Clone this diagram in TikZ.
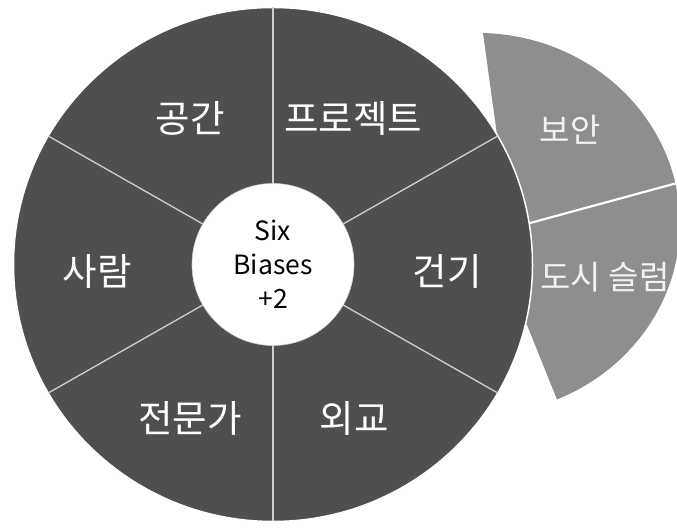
\documentclass[tikz,border=0pt]{standalone}
\usepackage{fontspec}
\usetikzlibrary{calc}
\setmainfont{Noto Sans CJK KR}
\newfontfamily\kr{Noto Sans CJK KR}
\definecolor{darkseg}{HTML}{4F4F4F}
\definecolor{lightseg}{HTML}{8E8E8E}
\definecolor{spoke}{HTML}{CFCFCF}
\tikzset{
  biglabel/.style={text=white, font=\kr\fontsize{37.5}{44}\selectfont, inner sep=0pt},
  smalllabel/.style={text=white!95!black, font=\kr\fontsize{33}{40}\selectfont, inner sep=0pt},
  spokeline/.style={draw=spoke, line width=1.3pt},
}
\begin{document}
\begin{tikzpicture}[x=1pt,y=1pt]
\useasboundingbox (0,0) rectangle (677,529);
\clip (0,0) rectangle (677,529);
\coordinate (C) at (273,264.5);
% outer light sectors (behind main circle)
\coordinate (V) at (521,219);
\coordinate (A) at (483,496);
\coordinate (E) at (477,305);
\fill[lightseg] (V) -- (A) arc[start angle=88.3, end angle=-66.8, x radius=203, y radius=191] -- cycle;
\coordinate (d1) at (500,297.8);
\coordinate (d2) at (690,349.5);
\draw[white, line width=2.2pt] (d1) -- (d2);
% main circle
\fill[darkseg, draw=white, line width=1.5pt] (C) ellipse[x radius=259.5, y radius=257];
\foreach \a in {90,30,-30,-90,150,210}{
  \draw[spokeline] ($(C)+(\a:81)$) -- ($(C)+(\a:259.5 and 257)$);
}
\fill[white, draw=spoke, line width=0.6pt] (C) circle[radius=81];
% labels
\node[biglabel] (gonggan) at (190,411) {공간};
\node[biglabel] (project) at (353,411) {프로젝트};
\node[biglabel] (saram) at (97,258) {사람};
\node[biglabel] (geongi) at (447,258) {건기};
\node[biglabel] (expert) at (190,111) {전문가};
\node[biglabel] (diplo) at (354,111) {외교};
\node[smalllabel] (boan) at (570,399) {보안};
\node[smalllabel] (slum) at (605,252) {도시 슬럼};
\node[align=center, font=\kr\fontsize{26.5}{34}\selectfont, text=black, inner sep=0pt] (center) at (C) {Six\\Biases\\+2};
\end{tikzpicture}
\end{document}
